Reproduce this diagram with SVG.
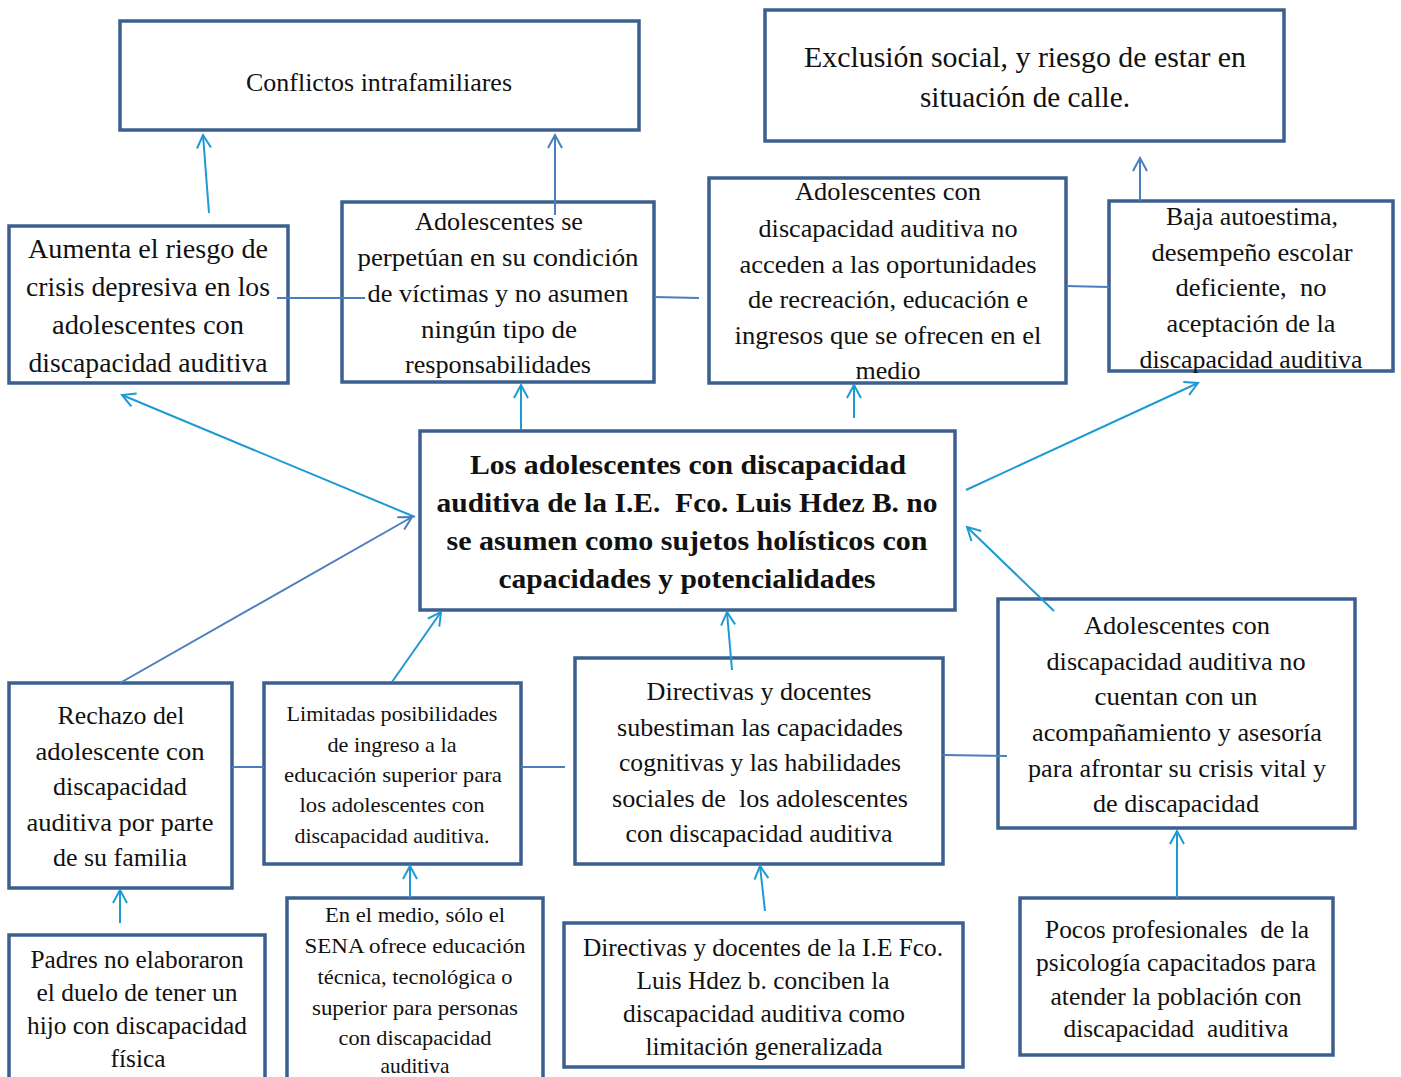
<svg xmlns="http://www.w3.org/2000/svg" width="1401" height="1077" viewBox="0 0 1401 1077">
<style>
.box{fill:#fff;stroke:#3B5F8E;stroke-width:3.5}
text{font-family:"Liberation Serif","DejaVu Serif",serif;fill:#111;text-anchor:middle}
.t26{font-size:26px}
.t25{font-size:25px}
.t21{font-size:21px}
.tb{font-size:28px;font-weight:bold}
.c{stroke:#1E9AD3;stroke-width:2;fill:none}
.b{stroke:#4A7EBE;stroke-width:2;fill:none}
</style>
<defs>
<marker id="ac" markerUnits="userSpaceOnUse" markerWidth="16" markerHeight="16" refX="14" refY="8" orient="auto" viewBox="0 0 16 16"><path d="M1,1 L14,8 L1,15" fill="none" stroke="#1E9AD3" stroke-width="2"/></marker>
<marker id="ab" markerUnits="userSpaceOnUse" markerWidth="16" markerHeight="16" refX="14" refY="8" orient="auto" viewBox="0 0 16 16"><path d="M1,1 L14,8 L1,15" fill="none" stroke="#4A7EBE" stroke-width="2"/></marker>
</defs>

<g id="n-conflictos"><rect class="box" x="120" y="21" width="519" height="109"/>
<text class="t26" x="379" y="91" textLength="266" lengthAdjust="spacingAndGlyphs">Conflictos intrafamiliares</text></g>

<g id="n-exclusion"><rect class="box" x="765" y="10" width="519" height="131"/>
<text class="t26" style="font-size:30px" x="1025" y="67" textLength="442" lengthAdjust="spacingAndGlyphs">Exclusión social, y riesgo de estar en</text>
<text class="t26" style="font-size:30px" x="1025" y="107" textLength="210" lengthAdjust="spacingAndGlyphs">situación de calle.</text></g>

<g id="n-aumenta"><rect class="box" x="9" y="226" width="279" height="157"/>
<text class="t26" style="font-size:28px" x="148" y="258" textLength="240" lengthAdjust="spacingAndGlyphs">Aumenta el riesgo de</text>
<text class="t26" style="font-size:28px" x="148" y="296" textLength="244" lengthAdjust="spacingAndGlyphs">crisis depresiva en los</text>
<text class="t26" style="font-size:28px" x="148" y="334" textLength="192" lengthAdjust="spacingAndGlyphs">adolescentes con</text>
<text class="t26" style="font-size:28px" x="148" y="372" textLength="239" lengthAdjust="spacingAndGlyphs">discapacidad auditiva</text></g>

<g id="n-perpetuan"><rect class="box" x="342" y="202" width="312" height="180"/>
<text class="t25" x="499" y="230" textLength="168" lengthAdjust="spacingAndGlyphs">Adolescentes se</text>
<text class="t25" x="498" y="266" textLength="281" lengthAdjust="spacingAndGlyphs">perpetúan en su condición</text>
<text class="t25" x="498" y="302" textLength="261" lengthAdjust="spacingAndGlyphs">de víctimas y no asumen</text>
<text class="t25" x="499" y="338" textLength="156" lengthAdjust="spacingAndGlyphs">ningún tipo de</text>
<text class="t25" x="498" y="373" textLength="186" lengthAdjust="spacingAndGlyphs">responsabilidades</text></g>

<g id="n-noacceden"><rect class="box" x="709" y="178" width="357" height="205"/>
<text class="t25" x="888" y="200" textLength="186" lengthAdjust="spacingAndGlyphs">Adolescentes con</text>
<text class="t25" x="888" y="237" textLength="259" lengthAdjust="spacingAndGlyphs">discapacidad auditiva no</text>
<text class="t25" x="888" y="273" textLength="297" lengthAdjust="spacingAndGlyphs">acceden a las oportunidades</text>
<text class="t25" x="888" y="308" textLength="280" lengthAdjust="spacingAndGlyphs">de recreación, educación e</text>
<text class="t25" x="888" y="344" textLength="307" lengthAdjust="spacingAndGlyphs">ingresos que se ofrecen en el</text>
<text class="t25" x="888" y="379" textLength="65" lengthAdjust="spacingAndGlyphs">medio</text></g>

<g id="n-baja"><rect class="box" x="1109" y="201" width="284" height="170"/>
<text class="t25" x="1252" y="225" textLength="172" lengthAdjust="spacingAndGlyphs">Baja autoestima,</text>
<text class="t25" x="1252" y="261" textLength="201" lengthAdjust="spacingAndGlyphs">desempeño escolar</text>
<text class="t25" x="1251" y="296" textLength="151" lengthAdjust="spacingAndGlyphs" xml:space="preserve">deficiente,  no</text>
<text class="t25" x="1251" y="332" textLength="169" lengthAdjust="spacingAndGlyphs">aceptación de la</text>
<text class="t25" x="1251" y="368" textLength="223" lengthAdjust="spacingAndGlyphs">discapacidad auditiva</text></g>

<g id="n-central"><rect class="box" x="420" y="431" width="535" height="179"/>
<text class="tb" x="688" y="474" textLength="436" lengthAdjust="spacingAndGlyphs">Los adolescentes con discapacidad</text>
<text class="tb" x="687" y="512" textLength="501" lengthAdjust="spacingAndGlyphs" xml:space="preserve">auditiva de la I.E.  Fco. Luis Hdez B. no</text>
<text class="tb" x="687" y="550" textLength="481" lengthAdjust="spacingAndGlyphs">se asumen como sujetos holísticos con</text>
<text class="tb" x="687" y="588" textLength="377" lengthAdjust="spacingAndGlyphs">capacidades y potencialidades</text></g>

<g id="n-rechazo"><rect class="box" x="9" y="683" width="223" height="205"/>
<text class="t26" x="121" y="724" textLength="127" lengthAdjust="spacingAndGlyphs">Rechazo del</text>
<text class="t26" x="120" y="760" textLength="169" lengthAdjust="spacingAndGlyphs">adolescente con</text>
<text class="t26" x="120" y="795" textLength="134" lengthAdjust="spacingAndGlyphs">discapacidad</text>
<text class="t26" x="120" y="831" textLength="187" lengthAdjust="spacingAndGlyphs">auditiva por parte</text>
<text class="t26" x="120" y="866" textLength="134" lengthAdjust="spacingAndGlyphs">de su familia</text></g>

<g id="n-limitadas"><rect class="box" x="264" y="683" width="257" height="181"/>
<text class="t21" x="392" y="721" textLength="211" lengthAdjust="spacingAndGlyphs">Limitadas posibilidades</text>
<text class="t21" x="392" y="752" textLength="129" lengthAdjust="spacingAndGlyphs">de ingreso a la</text>
<text class="t21" x="393" y="782" textLength="218" lengthAdjust="spacingAndGlyphs">educación superior para</text>
<text class="t21" x="392" y="812" textLength="185" lengthAdjust="spacingAndGlyphs">los adolescentes con</text>
<text class="t21" x="392" y="843" textLength="195" lengthAdjust="spacingAndGlyphs">discapacidad auditiva.</text></g>

<g id="n-subestiman"><rect class="box" x="575" y="658" width="368" height="206"/>
<text class="t26" x="759" y="700" textLength="225" lengthAdjust="spacingAndGlyphs">Directivas y docentes</text>
<text class="t26" x="760" y="736" textLength="286" lengthAdjust="spacingAndGlyphs">subestiman las capacidades</text>
<text class="t26" x="760" y="771" textLength="282" lengthAdjust="spacingAndGlyphs">cognitivas y las habilidades</text>
<text class="t26" x="760" y="807" textLength="296" lengthAdjust="spacingAndGlyphs" xml:space="preserve">sociales de  los adolescentes</text>
<text class="t26" x="759" y="842" textLength="267" lengthAdjust="spacingAndGlyphs">con discapacidad auditiva</text></g>

<g id="n-nocuentan"><rect class="box" x="998" y="599" width="357" height="229"/>
<text class="t26" x="1177" y="634" textLength="186" lengthAdjust="spacingAndGlyphs">Adolescentes con</text>
<text class="t26" x="1176" y="670" textLength="259" lengthAdjust="spacingAndGlyphs">discapacidad auditiva no</text>
<text class="t26" x="1176" y="705" textLength="163" lengthAdjust="spacingAndGlyphs">cuentan con un</text>
<text class="t26" x="1177" y="741" textLength="290" lengthAdjust="spacingAndGlyphs">acompañamiento y asesoría</text>
<text class="t26" x="1177" y="777" textLength="298" lengthAdjust="spacingAndGlyphs">para afrontar su crisis vital y</text>
<text class="t26" x="1176" y="812" textLength="166" lengthAdjust="spacingAndGlyphs">de discapacidad</text></g>

<g id="n-padres"><rect class="box" x="9" y="935" width="256" height="160"/>
<text class="t26" x="137" y="968" textLength="213" lengthAdjust="spacingAndGlyphs">Padres no elaboraron</text>
<text class="t26" x="137" y="1001" textLength="201" lengthAdjust="spacingAndGlyphs">el duelo de tener un</text>
<text class="t26" x="137" y="1034" textLength="220" lengthAdjust="spacingAndGlyphs">hijo con discapacidad</text>
<text class="t26" x="138" y="1067" textLength="55" lengthAdjust="spacingAndGlyphs">física</text></g>

<g id="n-enelmedio"><rect class="box" x="287" y="898" width="256" height="200"/>
<text class="t21" x="415" y="922" textLength="180" lengthAdjust="spacingAndGlyphs">En el medio, sólo el</text>
<text class="t21" x="415" y="953" textLength="221" lengthAdjust="spacingAndGlyphs">SENA ofrece educación</text>
<text class="t21" x="415" y="984" textLength="195" lengthAdjust="spacingAndGlyphs">técnica, tecnológica o</text>
<text class="t21" x="415" y="1015" textLength="206" lengthAdjust="spacingAndGlyphs">superior para personas</text>
<text class="t21" x="415" y="1045" textLength="153" lengthAdjust="spacingAndGlyphs">con discapacidad</text>
<text class="t21" x="415" y="1073" textLength="69" lengthAdjust="spacingAndGlyphs">auditiva</text></g>

<g id="n-directivasie"><rect class="box" x="564" y="923" width="399" height="144"/>
<text class="t26" x="763" y="956" textLength="360" lengthAdjust="spacingAndGlyphs">Directivas y docentes de la I.E Fco.</text>
<text class="t26" x="763" y="989" textLength="253" lengthAdjust="spacingAndGlyphs">Luis Hdez b. conciben la</text>
<text class="t26" x="764" y="1022" textLength="282" lengthAdjust="spacingAndGlyphs">discapacidad auditiva como</text>
<text class="t26" x="764" y="1055" textLength="237" lengthAdjust="spacingAndGlyphs">limitación generalizada</text></g>

<g id="n-pocos"><rect class="box" x="1020" y="898" width="313" height="157"/>
<text class="t26" x="1177" y="938" textLength="264" lengthAdjust="spacingAndGlyphs" xml:space="preserve">Pocos profesionales  de la</text>
<text class="t26" x="1176" y="971" textLength="280" lengthAdjust="spacingAndGlyphs">psicología capacitados para</text>
<text class="t26" x="1176" y="1005" textLength="251" lengthAdjust="spacingAndGlyphs">atender la población con</text>
<text class="t26" x="1176" y="1037" textLength="225" lengthAdjust="spacingAndGlyphs" xml:space="preserve">discapacidad  auditiva</text></g>

<g id="connectors">
<line class="c" x1="209" y1="213" x2="203" y2="135" marker-end="url(#ac)"/>
<line class="b" x1="555" y1="215" x2="555" y2="135" marker-end="url(#ab)"/>
<line class="b" x1="1140" y1="201" x2="1140" y2="158" marker-end="url(#ab)"/>
<line class="b" x1="277" y1="298" x2="365" y2="298"/>
<line class="b" x1="654" y1="297" x2="699" y2="298"/>
<line class="b" x1="1066" y1="286" x2="1109" y2="287"/>
<line class="c" x1="521" y1="430" x2="521" y2="385" marker-end="url(#ac)"/>
<line class="c" x1="854" y1="418" x2="854" y2="385" marker-end="url(#ac)"/>
<line class="c" x1="415" y1="517" x2="122" y2="395" marker-end="url(#ac)"/>
<line class="c" x1="966" y1="490" x2="1198" y2="383" marker-end="url(#ac)"/>
<line class="b" x1="120" y1="683" x2="412" y2="517" marker-end="url(#ab)"/>
<line class="c" x1="392" y1="682" x2="441" y2="612" marker-end="url(#ac)"/>
<line class="c" x1="732" y1="670" x2="727" y2="612" marker-end="url(#ac)"/>
<line class="c" x1="1054" y1="611" x2="967" y2="527" marker-end="url(#ac)"/>
<line class="b" x1="232" y1="767" x2="264" y2="767"/>
<line class="b" x1="521" y1="767" x2="565" y2="767"/>
<line class="b" x1="943" y1="755" x2="1007" y2="756"/>
<line class="c" x1="120" y1="923" x2="120" y2="890" marker-end="url(#ac)"/>
<line class="c" x1="410" y1="898" x2="410" y2="866" marker-end="url(#ac)"/>
<line class="c" x1="765" y1="911" x2="760" y2="866" marker-end="url(#ac)"/>
<line class="c" x1="1177" y1="898" x2="1177" y2="831" marker-end="url(#ac)"/>
</g>
</svg>
